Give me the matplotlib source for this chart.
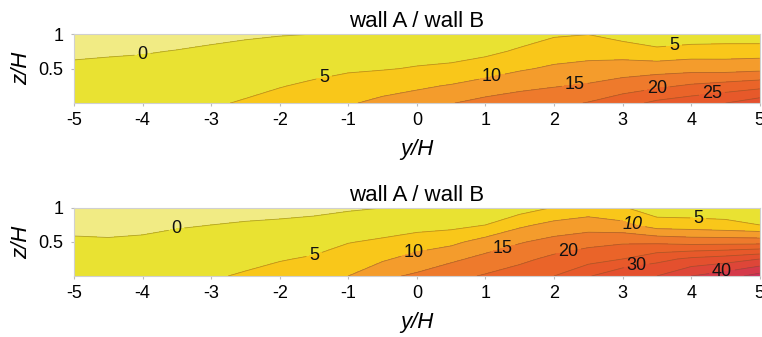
import numpy as np
import matplotlib
matplotlib.use("Agg")
import matplotlib.pyplot as plt

plt.rcParams['font.family'] = ['Liberation Sans', 'DejaVu Sans']

# grid: columns y/H, rows z/H
y_pos = np.arange(-5, 5.01, 0.5)
z_pos = np.array([0.0, 0.25, 0.5, 0.75, 1.0])

# upper panel, one list per z row (bottom to top)
top_vals = np.array([
    [2.0, 2.4, 3.0, 3.7, 4.5, 5.4, 6.5, 8.0, 9.5, 11.3, 12.8, 14.8, 16.7, 17.9, 18.5, 20.3, 23.0, 26.2, 28.0, 30.0, 33.0],
    [1.2, 1.5, 1.9, 2.5, 3.2, 3.9, 4.8, 5.7, 6.8, 8.0, 9.1, 10.4, 12.0, 13.6, 14.7, 15.6, 17.4, 18.9, 20.7, 22.0, 23.3],
    [0.4, 0.6, 0.85, 1.3, 1.85, 2.4, 3.1, 3.8, 4.4, 4.7, 5.3, 5.7, 7.6, 9.4, 10.8, 11.6, 12.4, 13.0, 13.3, 13.0, 13.6],
    [-0.4, -0.3, -0.2, 0.1, 0.5, 1.0, 1.45, 1.9, 2.4, 2.9, 3.3, 3.6, 3.8, 5.7, 7.5, 8.1, 7.7, 6.0, 7.3, 7.5, 7.6],
    [-1.2, -1.2, -1.3, -1.1, -0.8, -0.5, -0.2, 0.0, 0.5, 1.0, 1.5, 1.8, 2.0, 2.6, 4.4, 4.9, 3.0, 2.0, 1.6, 1.8, 1.7],
])

# lower panel
bottom_vals = np.array([
    [2.0, 2.2, 2.8, 3.5, 4.5, 5.5, 6.7, 8.0, 10.0, 14.0, 15.8, 18.5, 20.5, 22.7, 25.0, 29.5, 34.5, 35.0, 40.0, 42.7, 47.0],
    [1.15, 1.2, 1.7, 2.3, 3.0, 3.8, 4.7, 5.5, 7.4, 9.3, 12.0, 14.0, 16.5, 18.7, 21.3, 23.0, 25.0, 28.5, 31.0, 32.5, 35.0],
    [0.3, 0.25, 0.5, 1.0, 1.5, 2.1, 2.7, 3.3, 4.8, 5.7, 7.3, 8.8, 12.0, 14.6, 16.7, 18.5, 19.3, 19.0, 18.1, 18.1, 18.0],
    [-0.55, -0.7, -0.7, -0.3, 0.0, 0.35, 0.7, 1.1, 2.0, 2.8, 3.2, 3.5, 5.0, 9.0, 11.5, 12.4, 11.4, 7.5, 7.1, 6.2, 5.0],
    [-1.4, -1.6, -1.8, -1.5, -1.5, -1.3, -1.3, -1.0, -0.5, 0.0, 1.0, 1.5, 2.5, 2.6, 5.3, 7.4, 5.5, 2.0, 2.0, 2.5, 2.5],
])

levels = np.arange(-5, 51, 5)
band_colors = ['#F1EB84', '#E9E232', '#F9C71A', '#F49C2C', '#EE7A2C', '#EA6429',
               '#E7592A', '#E4502E', '#DE4638', '#D53A4A', '#CE2E58']

x_ticks = np.arange(-5, 6, 1)
title = "wall A / wall B"

# where the contour labels sit (layout only)
top_label_pos = [(-4.0, 0.70), (-1.35, 0.35), (1.1, 0.37), (2.3, 0.28), (3.5, 0.22), (4.3, 0.16), (3.75, 0.82)]
bottom_label_pos = [(-3.5, 0.68), (-1.5, 0.32), (-0.05, 0.37), (1.25, 0.43), (2.2, 0.40), (3.2, 0.19), (4.45, 0.05), (3.15, 0.78), (4.1, 0.80)]
italic_label = {1: [7]}

fig = plt.figure(figsize=(7.62, 3.37), dpi=100)
ax1 = fig.add_axes([0.0971, 0.694, 0.900, 0.205])
ax2 = fig.add_axes([0.0971, 0.181, 0.900, 0.202])

for i, (ax, vals, lab_pos) in enumerate([(ax1, top_vals, top_label_pos), (ax2, bottom_vals, bottom_label_pos)]):
    ax.contourf(y_pos, z_pos, vals, levels=levels, colors=band_colors)
    cs = ax.contour(y_pos, z_pos, vals, levels=levels, colors='#6e5420', linewidths=0.6, alpha=0.45)
    lbls = ax.clabel(cs, fmt='%d', fontsize=13, colors='black', inline=True, manual=lab_pos,
                     inline_spacing=3)
    for t in lbls:
        t.set_alpha(1)
        t.set_color('#111111')
        t.set_rotation(0)
    for k in italic_label.get(i, []):
        lbls[k].set_style('italic')
    ax.set_xlim(-5, 5)
    ax.set_ylim(0, 1)
    ax.set_xticks(x_ticks)
    ax.set_xticklabels([str(t) for t in x_ticks])
    ax.set_yticks([0.5, 1])
    ax.set_yticklabels(['0.5', '1'])
    ax.tick_params(labelsize=13, length=2.5, color='#bbbbbb', pad=4)
    ax.tick_params(axis='y', pad=5)
    for sp in ax.spines.values():
        sp.set_color('#d0d0d0')
        sp.set_linewidth(0.8)
    ax.set_title(title, fontsize=16, pad=5)
    ax.set_xlabel('y/H', fontsize=16, style='italic', labelpad=7)
    ax.set_ylabel('z/H', fontsize=16, style='italic', labelpad=5)

fig.savefig('out.png', dpi=100)
